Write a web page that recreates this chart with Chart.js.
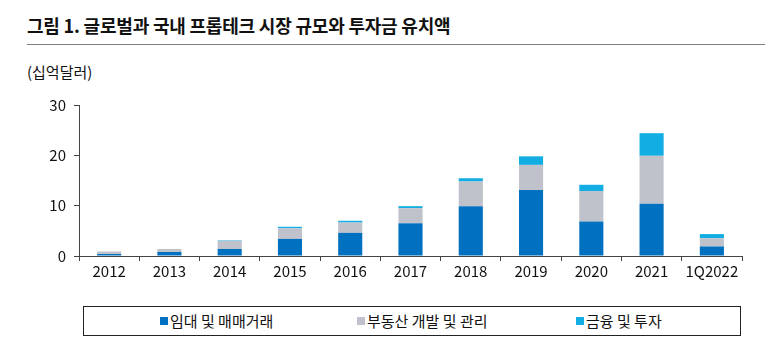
<!DOCTYPE html>
<html>
<head>
<meta charset="utf-8">
<script src="https://cdn.jsdelivr.net/npm/chart.js@4"></script>
<style>
  html, body { margin: 0; padding: 0; background: #fff; }
  body { width: 765px; height: 353px; position: relative; overflow: hidden;
         font-family: "Noto Sans CJK KR", "Noto Sans", sans-serif; color: #111; }
  #title { position: absolute; left: 27px; top: 12px; font-size: 18px; font-weight: 700; letter-spacing: -0.2px; }
  #rule { position: absolute; left: 27px; right: 0; top: 44px; border-top: 1px solid #7f7f7f; }
  #unit { position: absolute; left: 27px; top: 61px; font-size: 15px; }
  #wrap { position: absolute; left: 0; top: 88px; width: 765px; height: 193px; }
  #legend { position: absolute; left: 83px; top: 306px; width: 656px; height: 28px;
            border: 1px solid #222; font-size: 15px; }
  #legend span { position: absolute; top: 3px; white-space: nowrap; }
  #legend i { display: inline-block; width: 8px; height: 8px; margin-right: 2px; vertical-align: 2px; }
</style>
</head>
<body>
<div id="title">그림 1. 글로벌과 국내 프롭테크 시장 규모와 투자금 유치액</div>
<div id="rule"></div>
<div id="unit">(십억달러)</div>
<div id="wrap"><canvas id="chart"></canvas></div>
<div id="legend"></div>
<script>
const categories = ['2012', '2013', '2014', '2015', '2016', '2017', '2018', '2019', '2020', '2021', '1Q2022'];
const rentalTrade = [0.4, 0.8, 1.4, 3.4, 4.6, 6.5, 9.9, 13.1, 6.85, 10.4, 1.9];
const development = [0.5, 0.6, 1.6, 2.1, 2.05, 3.0, 4.9, 5.0, 6.05, 9.5, 1.65];
const finance = [0.0, 0.0, 0.1, 0.3, 0.35, 0.4, 0.65, 1.7, 1.25, 4.5, 0.8];
const seriesNames = ['임대 및 매매거래', '부동산 개발 및 관리', '금융 및 투자'];
const seriesColors = ['#0070c0', '#bfc2cb', '#12ade2'];
const yTicks = [0, 10, 20, 30];

const legendLeft = [76, 273, 492];
const legend = document.getElementById('legend');
seriesNames.forEach((name, i) => {
  const s = document.createElement('span');
  s.style.left = legendLeft[i] + 'px';
  s.innerHTML = '<i style="background:' + seriesColors[i] + '"></i>' + name;
  legend.appendChild(s);
});

const font = { family: '"Noto Sans CJK KR", "Noto Sans", sans-serif', size: 15 };

new Chart(document.getElementById('chart'), {
  type: 'bar',
  data: {
    labels: categories,
    datasets: [rentalTrade, development, finance].map((d, i) => ({
      label: seriesNames[i],
      data: d,
      backgroundColor: seriesColors[i],
      barPercentage: 0.8,
      categoryPercentage: 0.5
    }))
  },
  options: {
    responsive: true,
    maintainAspectRatio: false,
    animation: false,
    events: [],
    layout: { padding: { top: 2, right: 23, left: 0, bottom: 0 } },
    plugins: { legend: { display: false }, tooltip: { enabled: false } },
    scales: {
      x: {
        stacked: true,
        grid: { display: true, drawOnChartArea: false, offset: true, tickLength: 5, color: '#444' },
        border: { color: '#444' },
        ticks: { color: '#111', font, padding: 1 }
      },
      y: {
        stacked: true,
        min: 0,
        max: 30,
        afterFit: s => { s.width = 79; },
        afterBuildTicks: s => { s.ticks = yTicks.map(v => ({ value: v })); },
        grid: { display: true, drawOnChartArea: false, tickLength: 5, color: '#444' },
        border: { color: '#444' },
        ticks: { color: '#111', font, padding: 8 }
      }
    }
  }
});
</script>
</body>
</html>
